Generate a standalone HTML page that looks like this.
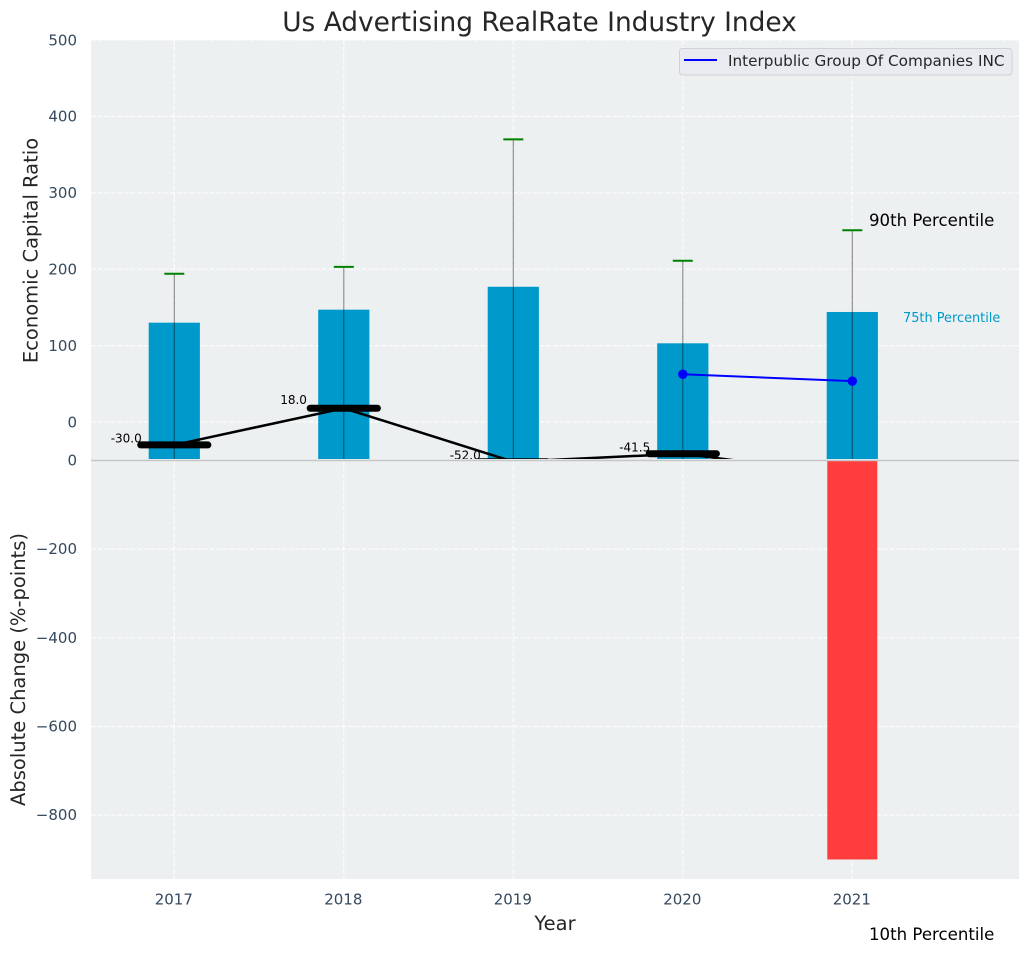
<!DOCTYPE html>
<html>
<head>
<meta charset="utf-8">
<title>Us Advertising RealRate Industry Index</title>
<style>
html,body{margin:0;padding:0;background:#fff;width:1029px;height:954px;overflow:hidden}
svg{display:block}
text{font-family:"DejaVu Sans","Liberation Sans",sans-serif}
</style>
</head>
<body>
<svg id="chart" xmlns="http://www.w3.org/2000/svg" width="1029" height="954" viewBox="0 0 1029 954">
  <defs>
    <clipPath id="top-clip"><rect x="91" y="40" width="928" height="419"/></clipPath>
    <clipPath id="bottom-clip"><rect x="91" y="460" width="928" height="419"/></clipPath>
  </defs>
  <text x="539.5" y="31" text-anchor="middle" font-size="26.4" fill="#262626">Us Advertising RealRate Industry Index</text>
  <rect x="91" y="40" width="928" height="420" fill="#ecf0f1"/>
  <g id="top-grid"></g>
  <g id="top-marks" clip-path="url(#top-clip)"></g>
  <rect x="91" y="460" width="928" height="419" fill="#ecf0f1"/>
  <g id="bottom-grid"></g>
  <g id="bottom-marks" clip-path="url(#bottom-clip)"></g>
  <line x1="91" x2="1019" y1="460.5" y2="460.5" stroke="#c4c6c7" stroke-width="1.4"/>
  <g id="tick-labels"></g>
  <text transform="translate(37.5,250.5) rotate(-90)" text-anchor="middle" font-size="19.5" fill="#262626">Economic Capital Ratio</text>
  <text transform="translate(25,669.5) rotate(-90)" text-anchor="middle" font-size="19.5" fill="#262626">Absolute Change (%-points)</text>
  <text x="555" y="930" text-anchor="middle" font-size="19.5" fill="#262626">Year</text>
  <g>
    <rect x="679.5" y="48.5" width="332.5" height="26.5" rx="3" fill="#e9ebf0" stroke="#cfd1d4" stroke-width="1"/>
    <line x1="684" x2="717" y1="60" y2="60" stroke="#0000ff" stroke-width="2"/>
    <text x="728" y="66" font-size="15.25" fill="#262626">Interpublic Group Of Companies INC</text>
  </g>
  <text x="869" y="226" font-size="16.6" fill="#000">90th Percentile</text>
  <text x="903" y="322" font-size="12.9" fill="#0099cc">75th Percentile</text>
  <text x="869" y="940" font-size="16.6" fill="#000">10th Percentile</text>
</svg>
<script>
const years = [2017, 2018, 2019, 2020, 2021];
const bar75 = [130, 147, 177, 103, 144];
const whisker90 = [194, 203, 370, 211, 251];
const medians = [-30, 18, -52, -41.5, -70];
const medianLabels = ["-30.0", "18.0", "-52.0", "-41.5", "-70.0"];
const companyYears = [2020, 2021];
const companyValues = [62.5, 53.5];
const lowerBars = [0, 0, 0, 0, -900];
const upperTicks = [0, 100, 200, 300, 400, 500];
const lowerTicks = [0, -200, -400, -600, -800];

const NS = "http://www.w3.org/2000/svg";
const xScale = function (v) { return 174.3 + (v - 2017) * 169.5; };
const yTop = function (v) { return 422 - v * 0.764; };
const yLow = function (v) { return 460.5 + (-v) * 0.4433; };
const topBase = yTop(-50);

function make(parent, tag, attrs, content) {
  const el = document.createElementNS(NS, tag);
  for (const k in attrs) { el.setAttribute(k, attrs[k]); }
  if (content !== undefined) { el.textContent = content; }
  parent.appendChild(el);
  return el;
}

const topGrid = document.getElementById("top-grid");
const bottomGrid = document.getElementById("bottom-grid");
const topMarks = document.getElementById("top-marks");
const bottomMarks = document.getElementById("bottom-marks");
const tickLabels = document.getElementById("tick-labels");
const gridStyle = { stroke: "#ffffff", "stroke-width": 1.2, "stroke-dasharray": "4.6,2", opacity: 0.85 };

upperTicks.forEach(function (t) {
  const gl = make(topGrid, "line", Object.assign({ x1: 91, x2: 1019, y1: yTop(t), y2: yTop(t) }, gridStyle));
  
  
  const tl = make(tickLabels, "text", { x: 77, y: yTop(t) + 5.3, "text-anchor": "end", "font-size": 15, fill: "#34495e" }, String(t));
  
  
});

lowerTicks.forEach(function (t) {
  if (t !== 0) {
    const gl = make(bottomGrid, "line", Object.assign({ x1: 91, x2: 1019, y1: yLow(t), y2: yLow(t) }, gridStyle));
    
    
  }
  const label = t < 0 ? "\u2212" + Math.abs(t) : String(t);
  const tl = make(tickLabels, "text", { x: 77, y: yLow(t) + 5, "text-anchor": "end", "font-size": 15, fill: "#34495e" }, label);
  
  
});

years.forEach(function (yr) {
  const x = xScale(yr);
  const g1 = make(topGrid, "line", Object.assign({ x1: x, x2: x, y1: 40, y2: 460 }, gridStyle));
  
  
  const g2 = make(bottomGrid, "line", Object.assign({ x1: x, x2: x, y1: 460, y2: 879 }, gridStyle));
  
  
  const tl = make(tickLabels, "text", { x: x - 0.5, y: 904.5, "text-anchor": "middle", "font-size": 15, fill: "#34495e" }, String(yr));
  
  
});

years.forEach(function (yr, i) {
  const x = xScale(yr);
  const bar = make(topMarks, "rect", { x: x - 25.6, y: yTop(bar75[i]), width: 51.2, height: topBase - yTop(bar75[i]), fill: "#0099cc" });
  
  
});

years.forEach(function (yr, i) {
  const x = xScale(yr);
  const w = make(topMarks, "line", { x1: x, x2: x, y1: yTop(whisker90[i]), y2: topBase, stroke: "#000000", "stroke-opacity": 0.45, "stroke-width": 1.1 });
  
  
  const c = make(topMarks, "line", { x1: x - 10, x2: x + 10, y1: yTop(whisker90[i]), y2: yTop(whisker90[i]), stroke: "#008000", "stroke-width": 2 });
  
  
});

const medianPoints = years.map(function (yr, i) { return xScale(yr) + "," + yTop(medians[i]); }).join(" ");
const medianLine = make(topMarks, "polyline", { points: medianPoints, fill: "none", stroke: "#000", "stroke-width": 2.5 });



years.forEach(function (yr, i) {
  const x = xScale(yr);
  const y = yTop(medians[i]);
  const m = make(topMarks, "line", { x1: x - 33.6, x2: x + 33.6, y1: y, y2: y, stroke: "#000", "stroke-width": 7, "stroke-linecap": "round" });
  
  
  const t = make(topMarks, "text", { x: x - 63.6, y: y - (medians[i] >= 0 ? 4.2 : 2.2), "font-size": 12, fill: "#000" }, medianLabels[i]);
  
  
});

const companyPoints = companyYears.map(function (yr, i) { return xScale(yr) + "," + yTop(companyValues[i]); }).join(" ");
const companyLine = make(topMarks, "polyline", { points: companyPoints, fill: "none", stroke: "#0000ff", "stroke-width": 2 });



companyYears.forEach(function (yr, i) {
  const p = make(topMarks, "circle", { cx: xScale(yr), cy: yTop(companyValues[i]), r: 4.7, fill: "#0000ff" });
  
  
});

years.forEach(function (yr, i) {
  const x = xScale(yr);
  const r = make(bottomMarks, "rect", { x: x - 25, y: yLow(0), width: 50, height: yLow(lowerBars[i]) - yLow(0), fill: "#ff3d3d" });
  
  
});
</script>
</body>
</html>
